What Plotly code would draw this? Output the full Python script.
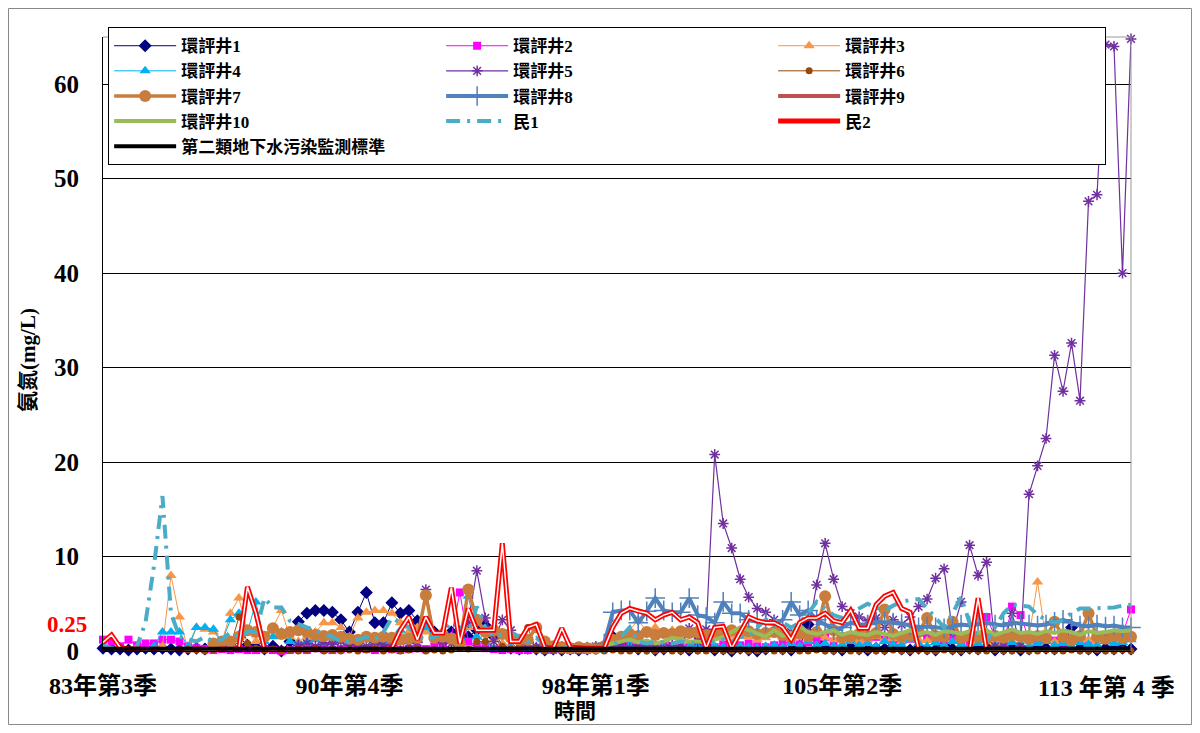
import plotly.graph_objects as go

# 季別：83年第3季 ~ 113年第4季 (122 季)
quarters = []
for yr in range(83, 114):
    for q in range(1, 5):
        if yr == 83 and q < 3:
            continue
        quarters.append(f"{yr}年第{q}季")

N = None

well1 = [0.3, 0.2, 0.2, 0.1, 0.2, 0.3, 0.2, 0.3, 0.2, 0.1,
         0.2, 0.3, 0.2, 0.4, 0.5, 0.8, 1.5, 0.6, 0.4, 0.2,
         0.5, 0.0, 1.0, 3.1, 4.0, 4.3, 4.3, 4.1, 3.3, 2.0,
         4.1, 6.2, 3.0, 3.0, 5.1, 4.0, 4.3, 3.2, 3.0, 2.0,
         1.0, 2.0, 1.0, 1.5, 2.2, 2.7, 1.5, 0.5, 0.3, 0.2,
         0.3, 0.2, 0.1, 0.2, 0.1, 0.2, 0.1, 0.2, 0.3, 0.5,
         1.5, 0.8, 0.4, 0.2, 0.3, 0.1, 0.2, 0.4, 0.2, 0.1,
         0.3, 0.5, 0.1, 0.2, 0.0, 0.3, 0.1, 0.0, 0.2, 0.4,
         0.2, 0.1, 0.5, 2.8, 1.0, 0.3, 0.2, 0.1, 0.4, 0.2,
         0.1, 0.3, 0.2, 0.5, 0.2, 0.1, 0.3, 0.2, 0.1, 0.6,
         0.2, 0.1, 0.3, 0.2, 0.4, 0.1, 0.2, 0.3, 0.1, 0.2,
         0.5, 0.3, 0.2, 0.4, 2.5, 0.3, 0.2, 0.1, 0.3, 0.2,
         0.3, 0.2]

well2 = [1.2, 1.0, 0.5, 1.2, 0.6, 0.8, 0.8, 1.2, 1.2, 1.0,
         0.5, 0.3, 0.2, 0.1, 0.2, 0.1, 0.2, 0.1, 0.1, 0.2,
         0.1, 0.0, 0.1, 0.2, 0.1, 0.3, 0.2, 0.1, 0.2, 0.4,
         0.3, 0.2, 0.1, 0.3, 0.2, 0.1, 0.2, 0.3, 0.2, 0.5,
         0.8, 1.5, 6.2, 1.0, 0.5, 0.3, 0.2, 0.1, 0.2, 0.1,
         0.1, 0.2, 0.1, 0.1, 0.2, 0.1, 0.1, 0.1, 0.2, 0.3,
         0.5, 0.4, 0.8, 0.6, 0.5, 0.4, 0.6, 0.5, 0.3, 0.4,
         0.6, 0.5, 0.4, 0.7, 0.5, 0.6, 0.8, 0.5, 0.4, 0.6,
         0.8, 1.0, 0.7, 0.9, 1.2, 1.5, 1.0, 1.4, 1.2, 0.8,
         1.0, 1.5, 1.2, 0.9, 1.1, 1.3, 2.0, 1.4, 1.0, 1.2,
         1.5, 1.1, 0.9, 1.3, 3.6, 1.5, 0.8, 4.7, 3.8, 1.2,
         1.0, 1.4, 1.1, 0.9, 1.2, 1.5, 1.0, 1.3, 1.6, 1.4,
         1.8, 4.4]

well3 = [N, N, N, N, N, N, N, 0.5, 8.0, 3.6,
         0.1, 2.5, 2.3, 2.0, 1.0, 4.0, 5.6, 2.0, 1.0, 1.5,
         2.5, 4.3, 1.5, 1.0, 1.5, 2.0, 3.0, 3.0, 2.5, 1.5,
         3.5, 4.1, 4.3, 4.3, 4.0, 3.0, 2.0, 2.5, 2.0, 1.5,
         2.2, 1.5, 1.0, 2.5, 3.0, 2.0, 1.2, 0.8, 0.5, 0.4,
         0.5, 0.3, 0.2, 0.3, 0.2, 0.1, 0.2, 0.1, 0.2, 0.5,
         1.0, 1.5, 2.2, 3.3, 2.0, 2.5, 1.8, 2.2, 1.5, 1.8,
         1.2, 1.5, 1.8, 1.4, 1.6, 2.0, 1.5, 1.2, 1.4, 1.7,
         1.5, 1.3, 1.6, 1.2, 1.8, 1.4, 1.2, 1.5, 1.3, 1.0,
         1.2, 1.5, 1.1, 1.3, 1.0, 1.4, 1.2, 1.1, 1.5, 1.3,
         1.0, 1.2, 1.4, 1.1, 1.3, 0.9, 1.2, 1.0, 1.4, 1.5,
         7.3, 1.2, 1.0, 1.3, 1.1, 1.5, 1.2, 1.0, 1.3, 1.2,
         1.1, 1.4]

well4 = [N, N, N, N, N, N, 0.5, 2.0, 2.0, 2.0,
         0.5, 2.5, 2.5, 2.3, 1.0, 3.3, 4.0, 2.0, 5.2, 1.0,
         1.5, 2.0, 1.0, 0.8, 1.0, 1.2, 0.8, 1.0, 1.5, 0.8,
         1.0, 1.2, 0.8, 1.0, 1.5, 2.2, 1.0, 1.2, 2.5, 1.5,
         2.0, 1.0, 1.5, 5.8, 1.5, 1.0, 0.3, 0.2, 0.4, 0.3,
         0.2, 0.3, 0.1, 0.2, 0.1, 0.2, 0.1, 0.2, 0.1, 0.3,
         0.5, 0.3, 0.6, 0.4, 0.5, 0.3, 0.4, 0.5, 0.3, 0.4,
         0.6, 0.3, 0.5, 0.4, 0.3, 0.5, 0.4, 0.3, 0.5, 0.6,
         0.4, 0.8, 0.5, 1.0, 0.6, 0.8, 0.5, 0.7, 1.0, 0.6,
         0.8, 0.5, 1.0, 0.7, 0.6, 1.2, 0.8, 0.5, 0.9, 0.6,
         1.0, 0.7, 0.5, 0.8, 1.2, 0.6, 0.4, 0.9, 0.7, 0.5,
         0.8, 1.0, 0.6, 0.8, 0.5, 0.9, 0.7, 0.6, 1.0, 0.8,
         0.9, 1.2]

well5 = [N, N, N, N, N, N, N, N, N, N,
         N, N, N, N, N, N, N, N, N, N,
         N, N, N, 0.6, 0.8, 0.5, 0.9, 0.7, 1.0, 0.6,
         0.8, 0.5, 0.9, 0.7, 0.6, 1.0, 0.8, 0.9, 6.5, 1.5,
         1.0, 0.8, 1.5, 3.0, 8.5, 3.5, 1.0, 3.3, 2.2, 0.8,
         0.5, 0.4, 0.6, 0.3, 0.5, 0.4, 0.3, 0.4, 0.5, 0.3,
         0.4, 0.5, 0.3, 0.6, 0.4, 0.5, 0.3, 0.6, 0.5, 2.4,
         1.0, 2.3, 20.8, 13.5, 10.9, 7.6, 5.7, 4.5, 4.1, 3.3,
         2.2, 2.0, 2.3, 1.9, 7.0, 11.4, 7.6, 4.7, 4.0, 3.6,
         3.2, 3.5, 2.5, 3.3, 2.8, 3.6, 4.7, 5.5, 7.7, 8.7,
         2.0, 5.2, 11.2, 8.0, 9.4, 0.5, 0.5, 4.0, 0.5, 16.6,
         19.6, 22.5, 31.3, 27.5, 32.6, 26.5, 47.6, 48.3, 64.2, 64.0,
         40.0, 64.8]

well6 = [N, N, N, N, N, N, N, N, N, N,
         0.2, 0.1, 0.0, 0.1, 0.2, 0.5, 3.6, 0.8, 0.3, 0.1,
         0.2, 0.0, 0.1, 0.0, 0.1, 0.2, 0.0, 0.1, 0.0, 0.1,
         0.0, 0.1, 0.2, 0.0, 0.1, 0.0, 0.1, 0.2, 0.0, 0.1,
         0.0, 0.1, 0.3, 0.2, 1.0, 1.0, 2.3, 0.5, 0.2, 0.3,
         2.5, 0.1, 0.0, 0.1, 0.0, 0.1, 0.0, 0.1, 0.0, 0.0,
         0.1, 0.0, 0.0, 0.1, 0.0, 0.0, 0.1, 0.0, 0.0, 0.1,
         0.0, 0.0, 0.1, 0.0, 0.0, 0.1, 0.0, 0.0, 0.1, 0.0,
         0.0, 0.1, 0.0, 0.0, 0.1, 0.0, 0.0, 0.1, 0.0, 0.0,
         0.1, 0.0, 0.0, 0.1, 0.0, 0.0, 0.1, 0.0, 0.0, 0.1,
         0.0, 0.0, 0.1, 0.0, 0.0, 0.1, 0.0, 0.0, 0.1, 0.0,
         0.0, 0.1, 0.0, 0.0, 0.1, 0.0, 0.0, 0.1, 0.0, 0.0,
         0.1, 0.0]

well7 = [N, N, N, N, N, N, N, N, N, N,
         N, N, N, 0.8, 1.0, 1.0, 1.5, 2.2, 2.0, 1.5,
         2.4, 1.8, 2.0, 2.2, 2.0, 1.7, 1.6, 1.7, 1.5, 1.3,
         1.2, 1.5, 1.4, 1.5, 1.4, 1.2, 1.3, 1.4, 5.9, 1.4,
         1.5, 1.3, 0.8, 6.5, 3.3, 2.0, 2.2, 1.8, 1.4, 1.2,
         1.2, 2.5, 1.0, 0.5, 0.4, 0.3, 0.4, 0.3, 0.3, 0.5,
         1.2, 1.5, 1.8, 1.6, 2.0, 1.7, 1.9, 1.8, 2.1, 1.9,
         2.0, 1.7, 1.8, 2.0, 2.2, 1.9, 2.1, 1.8, 1.9, 2.0,
         1.7, 1.5, 1.8, 1.6, 2.0, 5.8, 2.2, 1.4, 1.5, 1.8,
         1.6, 1.9, 4.4, 1.8, 1.5, 1.7, 2.0, 3.5, 1.6, 1.5,
         3.1, 1.4, 1.6, 1.5, 1.3, 1.6, 1.4, 1.7, 1.5, 1.3,
         1.6, 1.4, 3.1, 1.5, 1.2, 1.6, 4.0, 1.5, 1.3, 1.6,
         1.4, 1.5]

well8 = [N, N, N, N, N, N, N, N, N, N,
         N, N, N, N, N, N, N, N, N, N,
         N, N, N, N, N, N, N, N, N, N,
         N, N, N, N, N, N, N, N, N, N,
         N, N, N, N, N, N, N, N, N, N,
         N, N, N, N, N, N, N, N, N, 0.8,
         4.1, 4.3, 4.3, 3.0, 4.2, 5.6, 4.3, 4.1, 4.1, 5.6,
         3.8, 3.6, 3.0, 5.2, 4.0, 4.0, 3.3, 3.1, 3.1, 2.8,
         3.3, 5.2, 3.8, 4.3, 3.3, 2.8, 2.2, 2.5, 3.0, 2.8,
         2.8, 3.1, 3.1, 3.0, 2.9, 2.7, 2.5, 2.6, 2.5, 2.4,
         2.6, 2.8, 2.7, 2.8, 3.0, 2.8, 2.7, 3.0, 2.9, 2.8,
         2.7, 2.8, 3.1, 3.3, 3.0, 2.7, 2.6, 2.8, 2.6, 2.7,
         2.5, 2.5]

well9 = [N, N, N, N, N, N, N, N, N, N,
         N, N, N, N, N, N, N, N, N, N,
         N, N, N, N, N, N, N, N, N, N,
         N, N, N, N, N, N, N, N, N, N,
         N, N, N, N, N, N, N, N, N, N,
         N, N, N, N, N, N, N, N, N, 0.1,
         0.1, 0.0, 0.1, 0.1, 0.0, 0.1, 0.1, 0.0, 0.1, 0.1,
         0.0, 0.1, 0.1, 0.0, 0.1, 0.1, 0.0, 0.1, 0.1, 0.0,
         0.1, 0.1, 0.0, 0.1, 0.1, 0.0, 0.1, 0.1, 0.0, 0.1,
         0.1, 0.0, 0.1, 0.1, 0.0, 0.1, 0.1, 0.0, 0.1, 0.1,
         0.0, 0.1, 0.1, 0.0, 0.1, 0.1, 0.0, 0.1, 0.1, 0.0,
         0.1, 0.1, 0.0, 0.1, 0.1, 0.0, 0.1, 0.1, 0.0, 0.1,
         0.1, 0.0]

well10 = [N, N, N, N, N, N, N, N, N, N,
          N, N, N, N, N, N, N, N, N, N,
          N, N, N, N, N, N, N, N, N, N,
          N, N, N, N, N, N, N, N, N, N,
          N, N, N, N, N, N, N, N, N, N,
          N, N, N, N, N, N, N, N, N, 0.6,
          0.8, 1.0, 1.2, 0.9, 1.1, 0.8, 1.0, 1.4, 1.2, 1.0,
          1.0, 0.9, 1.2, 1.5, 2.0, 2.5, 2.2, 1.8, 1.5, 2.2,
          1.6, 1.8, 2.6, 2.0, 1.8, 2.0, 2.2, 1.7, 2.0, 1.8,
          1.7, 2.0, 1.8, 1.6, 1.9, 2.2, 1.8, 2.0, 1.7, 2.1,
          2.0, 1.8, 2.1, 1.9, 2.2, 1.7, 2.0, 2.3, 1.9, 2.0,
          1.8, 2.1, 1.9, 2.2, 2.0, 1.7, 2.1, 1.9, 2.0, 2.2,
          2.1, 2.2]

min1 = [0.6, 0.3, 0.1, 0.1, 0.5, 3.0, 9.0, 16.4, 4.0, 1.5,
        1.2, 1.0, 1.5, 1.0, 1.2, 2.0, 1.5, 2.0, 2.0, 5.6,
        4.6, 4.6, 3.2, 2.8, 2.5, 2.2, 1.9, 1.5, 1.0, 1.0,
        1.2, 1.5, 1.2, 2.0, 3.5, 3.0, 2.5, 1.5, 1.2, 1.5,
        2.0, 3.0, 2.5, 2.0, 4.7, 2.5, 1.5, 1.8, 2.0, 1.5,
        1.0, 1.4, 0.6, 0.5, 0.5, 0.3, 0.3, 0.3, 0.3, 0.3,
        0.5, 1.5, 2.5, 1.0, 0.8, 1.0, 0.9, 0.8, 1.0, 0.9,
        0.8, 1.0, 0.9, 1.2, 1.0, 1.5, 1.5, 2.5, 3.3, 3.2,
        3.0, 2.5, 3.0, 4.0, 5.2, 4.5, 3.8, 3.5, 4.0, 4.5,
        5.0, 4.6, 4.3, 4.8, 5.2, 5.4, 5.5, 4.5, 3.5, 2.5,
        4.0, 5.7, 3.0, 1.5, 1.0, 2.5, 4.0, 4.9, 4.8, 4.7,
        3.8, 3.3, 3.0, 3.3, 4.0, 4.5, 4.5, 4.5, 4.5, 4.6,
        4.8, 4.9]

min2 = [0.9, 1.7, 0.4, 0.2, 0.2, 0.1, 0.2, 0.1, 0.1, 0.2,
        0.1, 0.2, 0.1, 0.1, 0.2, 0.1, 0.3, 6.8, 4.0, 0.2,
        0.1, 0.2, 0.1, 0.2, 0.1, 0.2, 0.1, 0.1, 0.2, 0.1,
        0.2, 0.1, 0.2, 0.1, 0.3, 2.2, 3.6, 1.2, 3.6, 1.9,
        1.9, 6.7, 0.8, 4.5, 2.2, 2.2, 2.2, 11.4, 1.0, 1.0,
        2.5, 2.8, 0.4, 0.3, 2.4, 0.4, 0.3, 0.3, 0.3, 0.3,
        2.5, 4.0, 4.5, 4.2, 4.0, 3.3, 3.8, 4.1, 3.3, 3.6,
        3.0, 0.3, 2.5, 2.6, 0.3, 2.0, 3.6, 3.2, 3.0, 3.0,
        2.5, 1.2, 3.0, 3.5, 3.5, 4.0, 3.2, 3.0, 4.3, 2.4,
        2.4, 4.9, 5.8, 6.2, 4.5, 4.1, 0.2, 0.1, 0.1, 0.1,
        0.1, 0.1, 0.1, 5.6, 0.1, 0.1, 0.1, 0.1, 0.1, 0.1,
        0.1, 0.1, 0.1, 0.1, 0.1, 0.1, 0.1, 0.1, 0.1, 0.1,
        0.1, 0.1]

STANDARD = 0.25  # 第二類地下水污染監測標準 (mg/L)

tick_idx = [0, 29, 58, 87]
tick_text = ["83年第3季", "90年第4季", "98年第1季", "105年第2季"]
last_label = "113 年第 4 季"

FONT = "Liberation Serif, 'Noto Sans CJK TC', serif"

fig = go.Figure()


def add_series(name, y, color, width, symbol=None, size=8, dash="solid", open_marker=False):
    mode = "lines+markers" if symbol else "lines"
    marker = dict(symbol=symbol, size=size, color=color)
    if open_marker:
        marker["line"] = dict(color=color, width=1.5)
    fig.add_trace(go.Scatter(
        x=quarters, y=y, name=name, mode=mode,
        line=dict(color=color, width=width, dash=dash),
        marker=marker if symbol else None,
        cliponaxis=False,
    ))


add_series("環評井1", well1, "#000080", 1, "diamond", 10)
add_series("環評井2", well2, "#FF00FF", 1, "square", 8)
add_series("環評井3", well3, "#F79646", 1, "triangle-up", 10)
add_series("環評井4", well4, "#00B0F0", 1, "triangle-up", 10)
add_series("環評井5", well5, "#7030A0", 1.2, "asterisk-open", 9, open_marker=True)
add_series("環評井6", well6, "#984807", 1, "circle", 7)
add_series("環評井7", well7, "#C87D3C", 3.5, "circle", 12)
add_series("環評井8", well8, "#4F81BD", 4, "cross-thin-open", 14, open_marker=True)
add_series("環評井9", well9, "#C0504D", 4)
add_series("環評井10", well10, "#9BBB59", 4)
add_series("民1", min1, "#4BACC6", 4, dash="14px,7px,3px,7px")

# 民2：紅色雙線
fig.add_trace(go.Scatter(x=quarters, y=min2, name="民2", mode="lines",
                         line=dict(color="#FF0000", width=5), legendgroup="m2",
                         cliponaxis=False))
fig.add_trace(go.Scatter(x=quarters, y=min2, name="民2", mode="lines",
                         line=dict(color="white", width=1.5), legendgroup="m2",
                         showlegend=False, cliponaxis=False))

fig.add_trace(go.Scatter(x=quarters, y=[STANDARD] * len(quarters),
                         name="第二類地下水污染監測標準", mode="lines",
                         line=dict(color="black", width=4), cliponaxis=False))

fig.update_layout(
    width=1184, height=717,
    margin=dict(l=95, r=61, t=29, b=74),
    paper_bgcolor="white", plot_bgcolor="white",
    font=dict(family=FONT, color="black"),
    showlegend=True,
    legend=dict(
        orientation="h", x=0.005, y=1.016, xanchor="left", yanchor="top",
        entrywidth=255, entrywidthmode="pixels", itemwidth=62,
        bgcolor="white", bordercolor="black", borderwidth=1,
        font=dict(family=FONT, size=17, weight="bold"),
        traceorder="normal",
    ),
    xaxis=dict(
        type="category", range=[0, len(quarters) - 1],
        tickvals=[quarters[i] for i in tick_idx], ticktext=tick_text,
        ticks="", showgrid=False, showline=True, linecolor="black", linewidth=1,
        tickfont=dict(family=FONT, size=24, weight="bold"),
        ticklabelstandoff=13, zeroline=False,
    ),
    yaxis=dict(
        range=[0, 65], tickvals=[0, 10, 20, 30, 40, 50, 60],
        showgrid=True, gridcolor="black", gridwidth=1,
        showline=True, linecolor="black", linewidth=1, ticks="",
        tickfont=dict(family=FONT, size=25, weight="bold"),
        ticklabelstandoff=18, zeroline=False,
    ),
    shapes=[
        dict(type="line", xref="paper", yref="paper", x0=0, x1=1, y0=1, y1=1,
             line=dict(color="#999999", width=1)),
        dict(type="line", xref="paper", yref="paper", x0=1, x1=1, y0=0, y1=1,
             line=dict(color="#999999", width=1)),
        dict(type="rect", xref="paper", yref="paper",
             x0=-0.0919, x1=1.0589, y0=-0.1197, y1=1.0464,
             line=dict(color="#888888", width=1)),
    ],
    annotations=[
        dict(text="0.25", xref="paper", yref="y", x=0, y=2.8, xanchor="right",
             yanchor="middle", xshift=-14, showarrow=False,
             font=dict(family=FONT, size=23, color="#FF0000", weight="bold")),
        dict(text=last_label, xref="x", yref="paper", x=quarters[-1], y=0,
             xanchor="center", yanchor="top", xshift=-25, yshift=-22, showarrow=False,
             font=dict(family=FONT, size=24, weight="bold")),
        dict(text="氨氮(mg/L)", xref="paper", yref="paper", x=-0.073, y=0.474,
             xanchor="center", yanchor="middle", textangle=-90, showarrow=False,
             font=dict(family=FONT, size=21, weight="bold")),
        dict(text="時間", xref="paper", yref="paper", x=0.459, y=-0.0977,
             xanchor="center", yanchor="middle", showarrow=False,
             font=dict(family=FONT, size=21, weight="bold")),
    ],
)

fig.write_html("out.html")
